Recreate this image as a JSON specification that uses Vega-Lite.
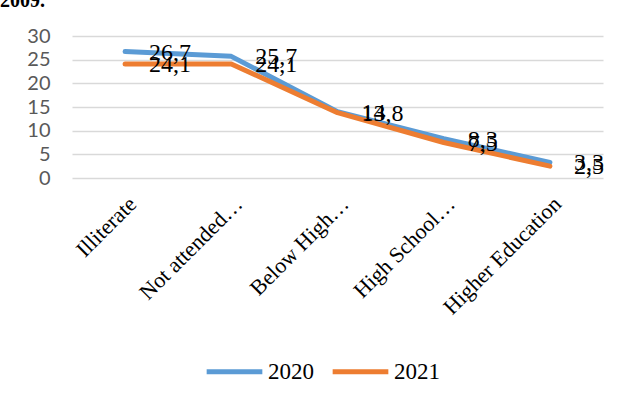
{
  "$schema": "https://vega.github.io/schema/vega-lite/v6.json",
  "autosize": {"type": "none"},
  "width": 531,
  "height": 142,
  "padding": {"left": 72, "top": 36, "right": 23, "bottom": 222},
  "background": "white",
  "title": {"text": "2009.", "anchor": "start", "frame": "group", "orient": "top", "offset": 0, "dx": -72, "dy": 5, "font": "Liberation Serif", "fontSize": 20, "fontWeight": "bold", "color": "black", "baseline": "bottom"},
  "config": {
    "view": {"stroke": null},
    "locale": {"number": {"decimal": ",", "thousands": ".", "grouping": [3], "currency": ["", ""]}}
  },
  "data": {
    "values": [
      {"category": "Illiterate", "year": "2020", "value": 26.7},
      {"category": "Not attended…", "year": "2020", "value": 25.7},
      {"category": "Below High…", "year": "2020", "value": 14},
      {"category": "High School…", "year": "2020", "value": 8.3},
      {"category": "Higher Education", "year": "2020", "value": 3.3},
      {"category": "Illiterate", "year": "2021", "value": 24.1},
      {"category": "Not attended…", "year": "2021", "value": 24.1},
      {"category": "Below High…", "year": "2021", "value": 13.8},
      {"category": "High School…", "year": "2021", "value": 7.5},
      {"category": "Higher Education", "year": "2021", "value": 2.5}
    ]
  },
  "encoding": {
    "x": {
      "field": "category", "type": "ordinal", "sort": null,
      "scale": {"padding": 0.5},
      "axis": {
        "title": null, "labelAngle": -45, "domain": false, "ticks": false, "grid": false,
        "labelFont": "Liberation Serif", "labelFontSize": 22, "labelColor": "black",
        "labelPadding": 15, "labelDx": -3, "labelLimit": 300
      }
    },
    "y": {
      "field": "value", "type": "quantitative",
      "scale": {"domain": [0, 30]},
      "axis": {
        "title": null, "values": [0, 5, 10, 15, 20, 25, 30], "domain": false, "ticks": false,
        "gridColor": "#D9D9D9", "gridWidth": 1.5,
        "labelFont": "Lato", "labelFontSize": 20, "labelColor": "#595959", "labelPadding": 22
      }
    },
    "color": {
      "field": "year", "type": "nominal",
      "scale": {"domain": ["2020", "2021"], "range": ["#5B9BD5", "#ED7D31"]},
      "legend": {
        "title": null, "orient": "none", "direction": "horizontal",
        "legendX": 132, "legendY": 305,
        "symbolType": "stroke", "symbolSize": 3100, "symbolStrokeWidth": 5,
        "labelFont": "Liberation Serif", "labelFontSize": 23, "labelColor": "black",
        "labelOffset": 3, "columnPadding": 8
      }
    }
  },
  "layer": [
    {"mark": {"type": "line", "strokeWidth": 5, "strokeCap": "round", "strokeJoin": "round"}},
    {
      "mark": {"type": "text", "align": "left", "baseline": "middle", "dx": 24, "dy": 1, "font": "Liberation Serif", "fontSize": 24, "color": "black"},
      "encoding": {"text": {"field": "value", "type": "quantitative", "format": ".1~f"}, "color": {"value": "black"}}
    }
  ]
}
